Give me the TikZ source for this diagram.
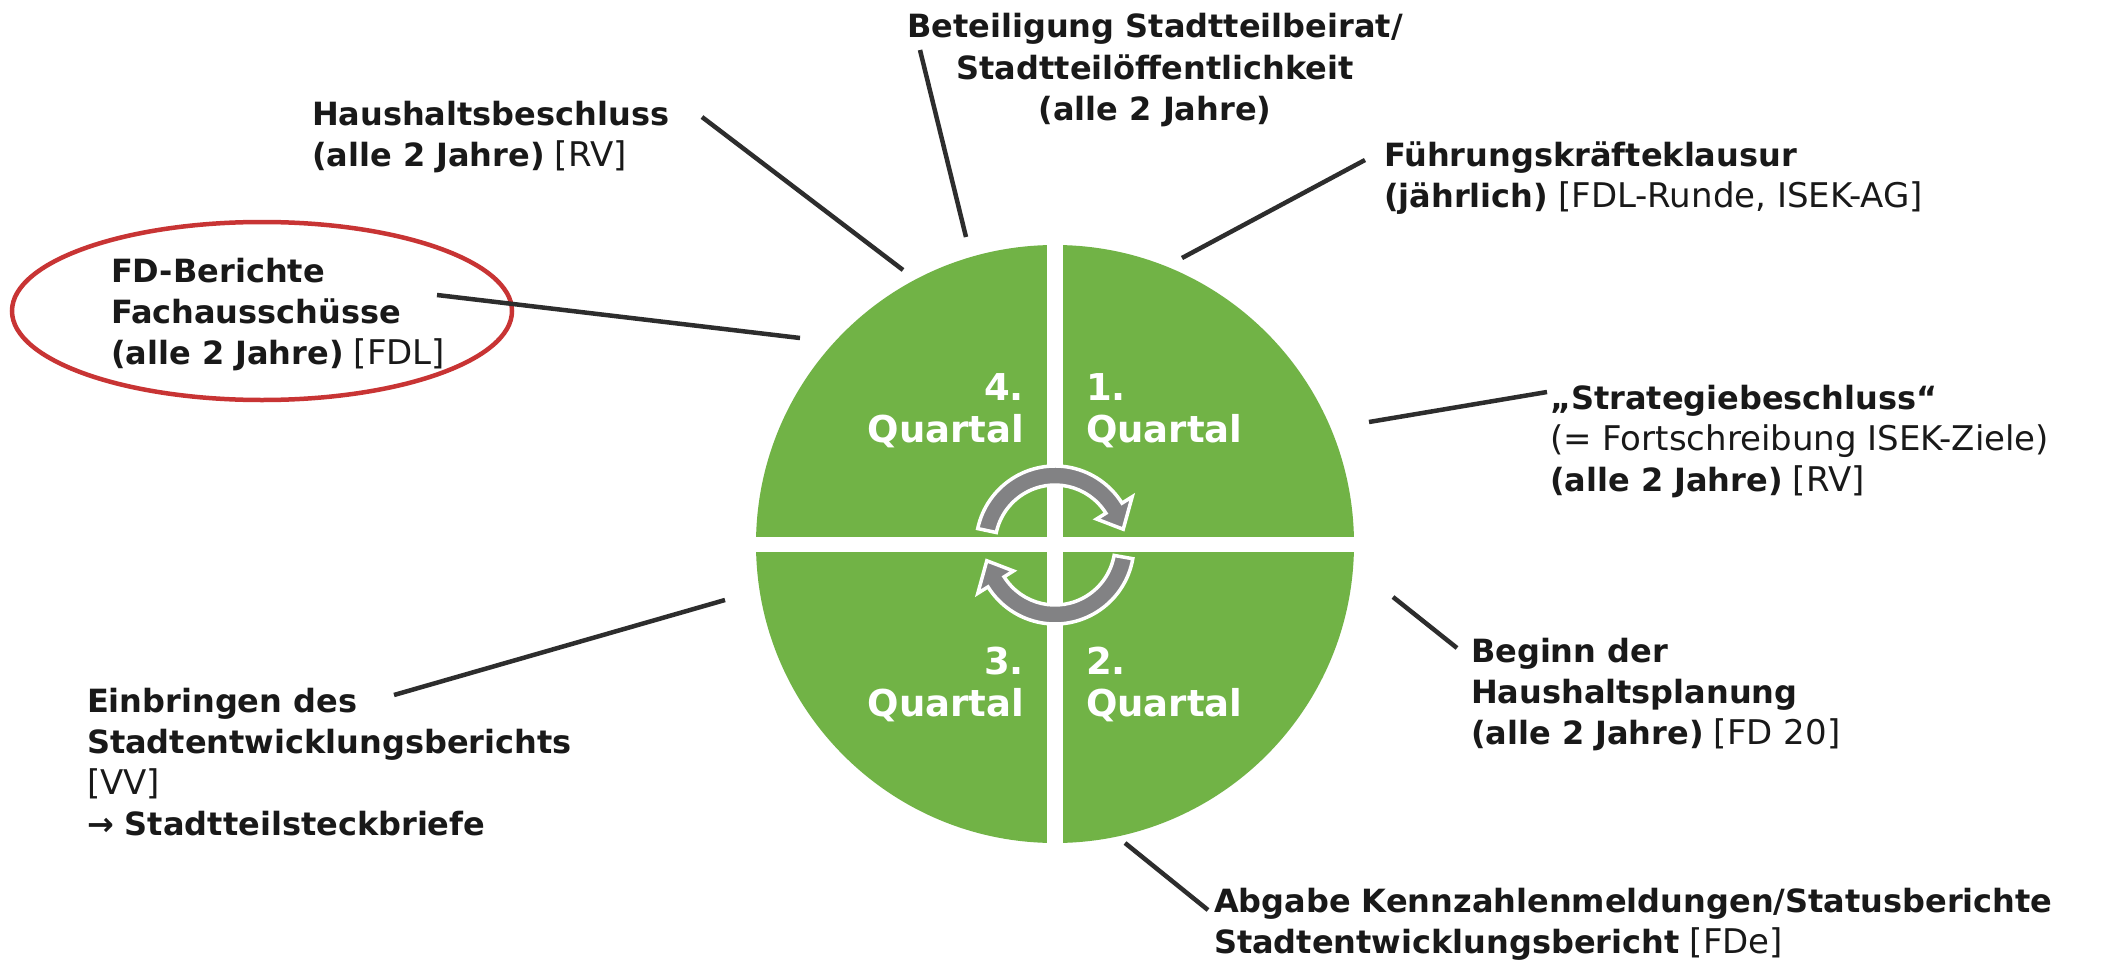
\documentclass[tikz,border=0pt]{standalone}
\usepackage{fontspec}
\setmainfont{DejaVu Sans}
\usetikzlibrary{calc}
\definecolor{qgreen}{RGB}{113,179,70}
\definecolor{linegray}{RGB}{45,45,45}
\definecolor{ellred}{RGB}{200,52,52}
\definecolor{arrgray}{RGB}{130,130,132}
\definecolor{txt}{RGB}{25,25,25}
\newcommand\LeftLines[1]{\vtop{\halign{##\hfil\cr #1\crcr}}}
\newcommand\CenterLines[1]{\vtop{\halign{\hfil##\hfil\cr #1\crcr}}}
\newcommand\RightLines[1]{\vtop{\halign{\hfil##\cr #1\crcr}}}
\newcommand\rg[1]{{\fontsize{34}{41}\selectfont #1}}
\tikzset{
  lbl/.style={inner sep=0pt, outer sep=0pt, text=txt, font=\fontsize{32}{41}\selectfont},
  qlbl/.style={inner sep=0pt, outer sep=0pt, text=white, font=\fontsize{37}{42}\selectfont\bfseries},
  conn/.style={draw=linegray, line width=4.5pt, line cap=butt},
  cyclearrow/.style={fill=arrgray, draw=white, line width=3.5pt, line join=miter}
}
\begin{document}
\begin{tikzpicture}[x=1pt,y=-1pt]
\useasboundingbox (0,0) rectangle (2107,966);
\fill[white] (0,0) rectangle (2107,966);

% circle with four quadrants
\fill[qgreen] (1055,544) circle[radius=299];
\fill[white] (1047,230) rectangle (1063,860);
\fill[white] (740,537) rectangle (1370,552);

% quarter labels
\node[qlbl, anchor=base east] (q4) at (1024,400) {\RightLines{4.\cr Quartal}};
\node[qlbl, anchor=base west] (q1) at (1086,400) {\LeftLines{1.\cr Quartal}};
\node[qlbl, anchor=base east] (q3) at (1024,674) {\RightLines{3.\cr Quartal}};
\node[qlbl, anchor=base west] (q2) at (1086,674) {\LeftLines{2.\cr Quartal}};

% cycle arrows
\coordinate (ac) at (1055,545);
\path[cyclearrow] ($(ac)+(-168:79)$) arc[start angle=-168, end angle=-32, radius=79]
  -- ($(ac)+(-32:91)$) -- ($(ac)+(-13:70)$) -- ($(ac)+(-32:49)$) -- ($(ac)+(-32:60)$)
  arc[start angle=-32, end angle=-168, radius=60] -- cycle;
\path[cyclearrow] ($(ac)+(10:79)$) arc[start angle=10, end angle=148, radius=79]
  -- ($(ac)+(148:91)$) -- ($(ac)+(167:70)$) -- ($(ac)+(148:49)$) -- ($(ac)+(148:60)$)
  arc[start angle=148, end angle=10, radius=60] -- cycle;

% labels
\node[lbl, anchor=base west] (haus) at (312,125)
  {\LeftLines{\textbf{Haushaltsbeschluss}\cr \textbf{(alle 2 Jahre)} \rg{[RV]}}};
\node[lbl, anchor=base] (beteil) at (1155,38)
  {\CenterLines{\textbf{Beteiligung Stadtteilbeirat/}\cr \textbf{Stadtteilöffentlichkeit}\cr \textbf{(alle 2 Jahre)}}};
\node[lbl, anchor=base west] (fdb) at (111,282)
  {\LeftLines{\textbf{FD-Berichte}\cr \textbf{Fachausschüsse}\cr \textbf{(alle 2 Jahre)} \rg{[FDL]}}};
\node[lbl, anchor=base west] (fuehr) at (1384,166)
  {\LeftLines{\textbf{Führungskräfteklausur}\cr \textbf{(jährlich)} \rg{[FDL-Runde, ISEK-AG]}}};
\node[lbl, anchor=base west] (strat) at (1550,409)
  {\LeftLines{\textbf{„Strategiebeschluss“}\cr \rg{(= Fortschreibung ISEK-Ziele)}\cr \textbf{(alle 2 Jahre)} \rg{[RV]}}};
\node[lbl, anchor=base west] (beginn) at (1471,662)
  {\LeftLines{\textbf{Beginn der}\cr \textbf{Haushaltsplanung}\cr \textbf{(alle 2 Jahre)} \rg{[FD 20]}}};
\node[lbl, anchor=base west] (abgabe) at (1214,912)
  {\LeftLines{\textbf{Abgabe Kennzahlenmeldungen/Statusberichte}\cr \textbf{Stadtentwicklungsbericht} \rg{[FDe]}}};
\node[lbl, anchor=base west] (einbr) at (87,712)
  {\LeftLines{\textbf{Einbringen des}\cr \textbf{Stadtentwicklungsberichts}\cr \rg{[VV]}\cr \textbf{→ Stadtteilsteckbriefe}}};

% red ellipse
\draw[ellred, line width=4.5pt] (262,311) ellipse[x radius=250, y radius=89];

% connector end points
\coordinate (hausA) at (702,117);   \coordinate (hausB) at (903,270);
\coordinate (betA) at (920,50);     \coordinate (betB) at (966,237);
\coordinate (fdbA) at (437,295);    \coordinate (fdbB) at (800,338);
\coordinate (fuehrA) at (1365,160); \coordinate (fuehrB) at (1182,258);
\coordinate (stratA) at (1547,392); \coordinate (stratB) at (1369,422);
\coordinate (beginnA) at (1457,648);\coordinate (beginnB) at (1393,597);
\coordinate (abgA) at (1208,910);   \coordinate (abgB) at (1125,843);
\coordinate (einA) at (394,695);    \coordinate (einB) at (725,600);

\draw[conn] (hausA) -- (hausB);
\draw[conn] (betA) -- (betB);
\draw[conn] (fdbA) -- (fdbB);
\draw[conn] (fuehrA) -- (fuehrB);
\draw[conn] (stratA) -- (stratB);
\draw[conn] (beginnA) -- (beginnB);
\draw[conn] (abgA) -- (abgB);
\draw[conn] (einA) -- (einB);
\end{tikzpicture}
\end{document}
